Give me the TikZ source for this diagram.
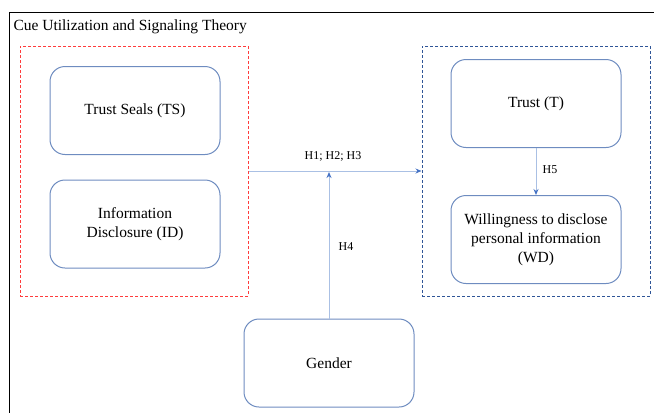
\documentclass[tikz,border=0pt]{standalone}
\usepackage{fontspec}
\setmainfont{Liberation Serif}
\usetikzlibrary{arrows.meta}
\definecolor{boxblue}{RGB}{110,140,192}
\definecolor{lineblue}{RGB}{170,192,228}
\definecolor{tipblue}{RGB}{68,114,196}
\definecolor{framered}{RGB}{255,60,60}
\definecolor{frameblue}{RGB}{47,85,151}
\tikzset{
  construct/.style={draw=boxblue, line width=1pt, rounded corners=15pt,
    minimum width=170pt, minimum height=88pt, align=center,
    font=\fontsize{15.5}{19}\selectfont},
  group/.style={line width=1pt, dash pattern=on 3pt off 2pt,
    minimum width=228pt, minimum height=250pt, inner sep=0pt},
  path/.style={draw=lineblue, line width=1pt, -{Stealth[color=tipblue,length=6pt,width=5pt]}},
  hyp/.style={font=\fontsize{12}{14}\selectfont}
}
\begin{document}
\begin{tikzpicture}[x=1pt,y=-1pt]
      \useasboundingbox (0,0) rectangle (654,413);

      % frame of the theory
      \draw[line width=1pt] (654,12) -- (9,12) -- (9,413);
      \node[anchor=west, font=\fontsize{15.5}{19}\selectfont] (theory) at (10,27) {Cue Utilization and Signaling Theory};

      % cues
      \node[group, draw=framered] (cues) at (134,171) {};
      \node[construct] (ts) at (135,110.5) {Trust Seals (TS)};
      \node[construct] (id) at (135,224) {Information\\Disclosure (ID)};

      % outcomes
      \node[group, draw=frameblue] (outcomes) at (536,171) {};
      \node[construct] (t) at (536,103.5) {Trust (T)};
      \node[construct] (wd) at (536,239.5) {Willingness to disclose\\personal information\\(WD)};

      % moderator
      \node[construct] (gender) at (329,363) {Gender};

      %%%%%%%%%%%%%%%%%%%%%%%%%%%%%%%%%%%%

      \coordinate (joint) at (329,172);
      \draw[path] (cues.east) -- (outcomes.west);
      \draw[path] (gender.north) -- (joint);
      \draw[path] (t.south) -- (wd.north);

      \node[hyp] (h123) at (333,156) {H1; H2; H3};
      \node[hyp] (h4) at (346,247) {H4};
      \node[hyp] (h5) at (550,170) {H5};

  \end{tikzpicture}
\end{document}
